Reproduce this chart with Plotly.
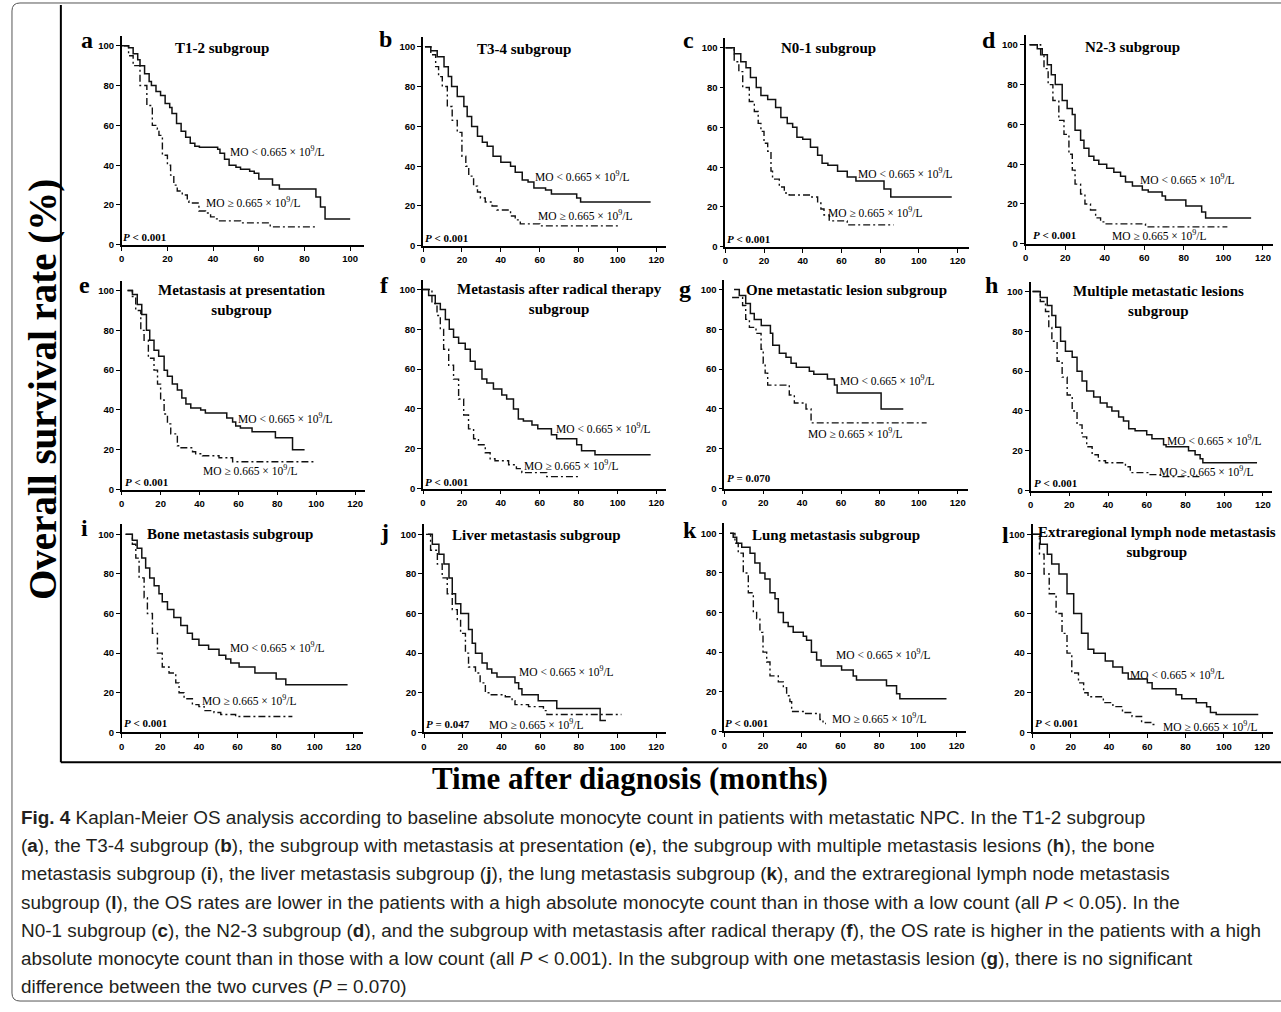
import plotly.graph_objects as go

W, H = 1281, 1012

# ---------------- data ----------------
PANEL_LETTERS = ["a", "b", "c", "d", "e", "f", "g", "h", "i", "j", "k", "l"]
PANEL_TITLES = ["T1-2 subgroup", "T3-4 subgroup", "N0-1 subgroup", "N2-3 subgroup",
                "Metastasis at presentation<br>subgroup",
                "Metastasis after radical therapy<br>subgroup",
                "One metastatic lesion subgroup",
                "Multiple metastatic lesions<br>subgroup",
                "Bone metastasis subgroup", "Liver metastasis subgroup",
                "Lung metastasis subgroup",
                "Extraregional lymph node metastasis<br>subgroup"]
P_TEXTS = ["<i>P</i> < 0.001"] * 6 + ["<i>P</i> = 0.070", "<i>P</i> < 0.001",
           "<i>P</i> < 0.001", "<i>P</i> = 0.047", "<i>P</i> < 0.001", "<i>P</i> < 0.001"]
X_TICKS_A = [0, 20, 40, 60, 80, 100]
X_TICKS = [0, 20, 40, 60, 80, 100, 120]
Y_TICKS = [0, 20, 40, 60, 80, 100]

A_LOW_T = [0, 3, 5, 7, 8, 10, 12, 13, 15, 17, 19, 21, 22, 24, 26, 28, 30, 32, 34, 42, 43, 45, 47, 50, 52, 56, 58, 60, 66, 69, 85, 87, 89, 100]
A_LOW_S = [100, 99, 96, 93, 90, 86, 82, 80, 77, 75, 71, 69, 66, 61, 57, 54, 51, 49.5, 49, 48, 46, 43, 40, 39, 38, 37, 36, 33, 30, 28, 24, 19, 13, 13]
A_HIGH_T = [1, 3, 5, 8, 11, 13.4, 15.6, 16.3, 17.8, 20, 21.4, 22.8, 24.3, 26.5, 28.7, 29.4, 33.8, 36.7, 38.9, 41, 42.5, 52, 65, 85]
A_HIGH_S = [100, 95, 90, 80, 70, 60, 58, 55, 45, 40, 35, 30, 27, 25, 22, 21, 17, 16, 14, 13, 12, 11, 9, 9]

B_LOW_T = [1, 4, 7.3, 10.8, 13, 14.7, 17.6, 21, 22.7, 25, 28, 30.5, 33, 36, 40, 45, 47.4, 51, 54, 57, 63, 66, 79, 81, 117]
B_LOW_S = [100, 98, 95, 90, 85, 80, 75, 70, 65, 60, 55, 52, 50, 45, 42, 40, 37, 33, 32, 29, 28, 26, 24, 22, 22]
B_HIGH_T = [1, 4, 6.5, 8, 9.9, 12.5, 15, 17.6, 20, 22, 23.5, 26, 28, 29.5, 32, 35.5, 38, 45, 47.4, 50, 60, 101]
B_HIGH_S = [100, 96, 90, 85, 80, 70, 63, 57, 45, 40, 35, 30, 27, 24, 22, 20, 18, 15, 13, 11, 10, 10]

C_LOW_T = [0, 4.6, 8, 10.7, 13, 16, 18.4, 21.9, 26, 28.7, 32, 34.8, 37, 40, 44, 47.7, 50, 53, 58, 63, 67.5, 82, 85.5, 117]
C_LOW_S = [100, 97, 93, 90, 85, 80, 76, 74, 70, 65, 62, 60, 55, 54, 50, 46, 42, 41, 38, 35, 33, 29, 25, 25]
C_HIGH_T = [0, 4.6, 7, 9, 12.4, 15, 17, 18.4, 20, 21.9, 23.6, 24.4, 27.9, 30.5, 33, 44, 47.7, 49.4, 51, 53.7, 63, 87]
C_HIGH_S = [100, 93, 88, 80, 73, 68, 62, 58, 52, 48, 38, 34, 30, 27, 26, 25, 22, 19, 16, 13, 11, 11]

D_LOW_T = [2, 5.9, 8.4, 11, 13, 15, 18.5, 21, 23.6, 25, 27.8, 29.5, 32, 34.5, 37, 41, 44.6, 48, 50.5, 54, 59, 62, 69, 70.7, 81, 89, 91, 114]
D_LOW_S = [100, 98, 95, 90, 85, 80, 72, 68, 65, 57, 52, 48, 44, 42, 40, 38, 36, 34, 31, 29, 27, 26, 24, 22, 19, 16, 13, 13]
D_HIGH_T = [2, 7.6, 9.3, 11.4, 13.8, 16.8, 19.4, 21.9, 23.6, 25, 27.8, 30, 32.8, 35.4, 37.9, 40, 60.6, 102]
D_HIGH_S = [100, 95, 88, 80, 72, 62, 55, 45, 37, 30, 25, 20, 17, 13, 11, 10, 8.5, 8.5]

E_LOW_T = [3, 5.5, 8, 10.3, 12.7, 14.4, 16.6, 19, 21.8, 23.5, 26, 28.6, 30.9, 33, 35.5, 40.6, 43, 54, 57, 58.6, 61, 67, 79, 87.8, 94]
E_LOW_S = [100, 98, 93, 88, 80, 75, 70, 67, 60, 57, 53, 50, 46, 43, 41, 40, 38.5, 36, 34, 32, 31, 29, 26, 20, 20]
E_HIGH_T = [3, 5.5, 7.2, 9.8, 11.5, 13.7, 16.6, 18.4, 20, 21.8, 23.5, 25.2, 28.6, 30, 36.4, 38, 41.5, 50, 57, 100]
E_HIGH_S = [100, 97, 90, 80, 75, 66, 60, 53, 45, 38, 33, 28, 22, 21, 19, 18, 17, 16, 14, 14]

F_LOW_T = [0, 2.9, 6.3, 8.9, 11.5, 13.5, 15.7, 18.3, 21.7, 24.3, 26.8, 30.3, 32.8, 36.2, 40.5, 43, 46.5, 49, 51.6, 56, 59, 66, 68.7, 79, 81.5, 88.4, 117]
F_LOW_S = [100, 97, 93, 90, 85, 80, 76, 73, 70, 64, 60, 55, 53, 50, 47, 45, 40, 35, 34, 32, 30, 27, 25, 22, 19, 17, 17]
F_HIGH_T = [0, 4.6, 7.2, 8.9, 10.6, 13.2, 15.7, 18.3, 20.9, 23.4, 26, 28.5, 32, 34.5, 37, 44, 48, 50.8, 63.6, 80.7]
F_HIGH_S = [100, 93, 87, 80, 70, 62, 55, 45, 37, 30, 25, 22, 18, 15, 14, 12, 10, 8, 6, 6]

G_LOW_T = [5, 7.7, 11, 13.4, 15.4, 19, 23.7, 24.9, 28.3, 31.7, 34.3, 37, 43.7, 46, 53, 56.6, 58, 80.6, 92]
G_LOW_S = [100, 97, 93, 88, 85, 82, 78, 72, 68, 66, 63, 61, 59, 57.5, 55, 52, 48, 40, 40]
G_HIGH_T = [4, 9.4, 11, 12.9, 16.3, 18.9, 20, 21, 22.3, 33.4, 36, 42, 44.6, 104]
G_HIGH_S = [96, 92, 85, 81, 78, 70, 63, 58, 52, 47, 43, 40, 33, 33]

H_LOW_T = [1, 5, 8.6, 11, 13, 15.5, 18, 21.5, 24, 26.6, 29, 32.6, 36, 39.5, 42, 45.5, 48, 50.7, 54, 60, 62.7, 68.7, 70, 81.6, 85, 87.6, 89, 117]
H_LOW_S = [100, 97, 93, 88, 82, 75, 70, 67, 60, 55, 50, 47, 44, 42, 40, 37, 35, 31, 30, 28, 26, 23, 22, 20, 18, 16, 14, 14]
H_HIGH_T = [1, 5, 7.7, 9.4, 11, 13.7, 16.3, 18.9, 21.5, 24, 26.6, 29, 31.8, 35, 38.7, 49, 51.5, 61, 67, 88.5]
H_HIGH_S = [100, 95, 90, 82, 75, 65, 57, 48, 40, 33, 27, 22, 18, 15, 14, 12, 9, 8, 7, 7]

I_LOW_T = [2, 5.5, 8, 10.4, 12.4, 14.5, 16.8, 19.3, 21, 23.7, 27, 30.6, 34, 36.6, 40, 45, 50.4, 53.9, 56.5, 60.8, 69, 80, 85, 117]
I_LOW_S = [100, 97, 93, 88, 83, 78, 74, 70, 66, 62, 58, 54, 50, 47, 44, 42, 39, 37, 35, 33, 30, 27, 24, 24]
I_HIGH_T = [2, 5.5, 7.3, 9, 11.6, 13.3, 15.9, 18.5, 21, 24.5, 28, 29.7, 32.3, 36.6, 40, 42.7, 47.8, 51.3, 59, 88.4]
I_HIGH_S = [100, 95, 88, 78, 68, 60, 50, 40, 33, 30, 25, 20, 17, 14, 13, 11, 10, 9, 8, 8]

J_LOW_T = [2, 4.3, 7.7, 10.3, 12.9, 14.6, 16.3, 19, 23, 24.9, 26.6, 30, 32.6, 35, 37.7, 47, 48.9, 50.6, 59, 68.6, 91, 94]
J_LOW_S = [100, 95, 90, 85, 78, 70, 65, 60, 52, 45, 40, 35, 32, 30, 28, 25, 22, 19, 16, 12, 6, 6]
J_HIGH_T = [1, 3.4, 6.9, 9.4, 12, 14.6, 17.2, 18.9, 21.4, 23, 26.6, 29, 31.7, 34.3, 42, 45.5, 47, 54, 61.7, 63.5, 102]
J_HIGH_S = [100, 92, 85, 78, 70, 62, 57, 50, 40, 33, 30, 25, 20, 19, 18, 16, 14, 13, 11, 9, 9]

K_LOW_T = [3, 4.6, 6.4, 9, 13.3, 15.8, 18.4, 21, 23.6, 26.2, 27.9, 30.5, 33, 35.6, 40.8, 42.5, 45, 47.7, 50, 60.6, 66.6, 68.3, 83.8, 89, 90.7, 114.8]
K_LOW_S = [100, 98, 95, 93, 90, 85, 80, 77, 70, 67, 60, 55, 53, 50, 48, 46, 40, 36, 33, 31, 28, 26, 23, 19, 16.5, 16.5]
K_HIGH_T = [3, 5.5, 7.2, 9.8, 12.4, 15, 16.7, 18.4, 20, 21.9, 23.6, 27.9, 30.5, 32.2, 33.9, 34.8, 41.6, 49.4, 51, 52.5]
K_HIGH_S = [100, 95, 90, 80, 70, 60, 57, 50, 40, 35, 28, 25, 22, 18, 15, 10, 9, 6, 4, 4]

L_LOW_T = [0, 4, 7.7, 10, 13.8, 18, 21.5, 25.6, 29, 32, 38, 42, 47, 50, 60, 62.5, 75, 78, 85.6, 91, 93, 96, 118]
L_LOW_S = [100, 95, 90, 85, 80, 70, 60, 50, 42, 40, 36, 33, 30, 27, 25, 22, 19, 17, 15, 13, 10, 9, 9]
L_HIGH_T = [0, 3.6, 6, 8.7, 12.3, 15.4, 18, 20.5, 24, 26.7, 29, 37, 42, 47, 52, 57, 62.5, 65]
L_HIGH_S = [100, 90, 80, 70, 60, 50, 40, 30, 25, 20, 18, 15, 13, 10, 8, 5, 4, 4]

LOW_T = [A_LOW_T, B_LOW_T, C_LOW_T, D_LOW_T, E_LOW_T, F_LOW_T, G_LOW_T, H_LOW_T, I_LOW_T, J_LOW_T, K_LOW_T, L_LOW_T]
LOW_S = [A_LOW_S, B_LOW_S, C_LOW_S, D_LOW_S, E_LOW_S, F_LOW_S, G_LOW_S, H_LOW_S, I_LOW_S, J_LOW_S, K_LOW_S, L_LOW_S]
HIGH_T = [A_HIGH_T, B_HIGH_T, C_HIGH_T, D_HIGH_T, E_HIGH_T, F_HIGH_T, G_HIGH_T, H_HIGH_T, I_HIGH_T, J_HIGH_T, K_HIGH_T, L_HIGH_T]
HIGH_S = [A_HIGH_S, B_HIGH_S, C_HIGH_S, D_HIGH_S, E_HIGH_S, F_HIGH_S, G_HIGH_S, H_HIGH_S, I_HIGH_S, J_HIGH_S, K_HIGH_S, L_HIGH_S]

LOW_LABEL = "MO < 0.665 × 10<sup>9</sup>/L"
HIGH_LABEL = "MO ≥ 0.665 × 10<sup>9</sup>/L"

CAPTION = [
    "<b>Fig. 4</b> Kaplan-Meier OS analysis according to baseline absolute monocyte count in patients with metastatic NPC. In the T1-2 subgroup",
    "(<b>a</b>), the T3-4 subgroup (<b>b</b>), the subgroup with metastasis at presentation (<b>e</b>), the subgroup with multiple metastasis lesions (<b>h</b>), the bone",
    "metastasis subgroup (<b>i</b>), the liver metastasis subgroup (<b>j</b>), the lung metastasis subgroup (<b>k</b>), and the extraregional lymph node metastasis",
    "subgroup (<b>l</b>), the OS rates are lower in the patients with a high absolute monocyte count than in those with a low count (all <i>P</i> < 0.05). In the",
    "N0-1 subgroup (<b>c</b>), the N2-3 subgroup (<b>d</b>), and the subgroup with metastasis after radical therapy (<b>f</b>), the OS rate is higher in the patients with a high",
    "absolute monocyte count than in those with a low count (all <i>P</i> < 0.001). In the subgroup with one metastasis lesion (<b>g</b>), there is no significant",
    "difference between the two curves (<i>P</i> = 0.070)",
]

# ---------------- layout geometry (pixels) ----------------
# x0 px (x=0), px per month, x right end px, y0 px (y=0), px per %
GEOM = [
    (119, 2.29, 362, 246, 2.00), (421, 1.95, 665, 247, 2.00),
    (724, 1.94, 968, 248, 2.00), (1025, 1.983, 1273, 245, 2.00),
    (119, 1.95, 363, 492, 2.00), (421, 1.95, 665, 491, 2.00),
    (723, 1.95, 967, 491, 2.00), (1030, 1.94, 1272, 493, 2.00),
    (119, 1.935, 361, 736, 1.99), (422, 1.94, 665, 736, 1.99),
    (723, 1.94, 965, 735, 1.99), (1032, 1.917, 1273, 736, 1.99),
]
LETTER_POS = [(84, 40), (383, 39), (687, 40), (988, 40), (82, 286), (382, 286), (684, 290),
              (991, 286), (82, 531), (382, 535), (689, 533), (1005, 538)]
TITLE_POS = [(220, 48), (522, 49), (827, 48), (1132, 47), (240, 301), (558, 300), (845, 291),
             (1158, 302), (228, 537), (535, 538), (835, 538), (1157, 545)]
LOWLAB_POS = [(228, 152), (533, 177), (857, 174), (1140, 180), (236, 420), (554, 430), (839, 382),
              (1167, 442), (228, 650), (517, 674), (835, 657), (1130, 677)]
HIGHLAB_POS = [(203, 203), (536, 216), (827, 213), (1112, 236), (200, 472), (522, 467), (807, 435),
               (1159, 473), (199, 703), (487, 728), (831, 722), (1163, 730)]
P_POS = [(120, 238), (423, 239), (726, 240), (1032, 236), (122, 484), (423, 484), (726, 480),
         (1033, 485), (121, 727), (424, 728), (724, 727), (1034, 727)]
PAD = 2  # annotation inner padding compensation for left-anchored texts


def px(x):
    return x / W


def py(y):
    return 1 - y / H


SERIF = "Liberation Serif, Times New Roman, serif"
SANS = "Liberation Sans, Arial, sans-serif"

fig = go.Figure()
layout = dict(width=W, height=H, margin=dict(l=0, r=0, t=0, b=0),
              paper_bgcolor="white", plot_bgcolor="white", showlegend=False)
annotations = []

for i in range(12):
    n = "" if i == 0 else str(i + 1)
    x0, sx, x1, y0, sy = GEOM[i]
    xmax = (x1 - x0) / sx
    ytop = y0 - 105 * sy
    layout["xaxis" + n] = dict(
        domain=[px(x0), px(x1)], range=[0, xmax], anchor="y" + n,
        showline=True, linecolor="black", linewidth=1.6, mirror=False,
        ticks="outside", ticklen=4, tickwidth=1.4, tickcolor="black",
        tickvals=X_TICKS_A if i == 0 else X_TICKS,
        tickfont=dict(family=SANS, size=9.5, color="black", weight="bold"),
        showgrid=False, zeroline=False, fixedrange=True)
    layout["yaxis" + n] = dict(
        domain=[py(y0), py(ytop)], range=[0, 105], anchor="x" + n,
        showline=True, linecolor="black", linewidth=1.6,
        ticks="outside", ticklen=4, tickwidth=1.4, tickcolor="black",
        tickvals=Y_TICKS,
        tickfont=dict(family=SANS, size=9.5, color="black", weight="bold"),
        showgrid=False, zeroline=False, fixedrange=True)

    fig.add_trace(go.Scatter(x=HIGH_T[i], y=HIGH_S[i], mode="lines", line_shape="hv",
                             line=dict(color="#111", width=1.4, dash="7px,3px,2px,3px"),
                             xaxis="x" + n, yaxis="y" + n, cliponaxis=False))
    fig.add_trace(go.Scatter(x=LOW_T[i], y=LOW_S[i], mode="lines", line_shape="hv",
                             line=dict(color="#111", width=1.5),
                             xaxis="x" + n, yaxis="y" + n, cliponaxis=False))

    lx, ly = LETTER_POS[i]
    annotations.append(dict(x=px(lx), y=py(ly), xref="paper", yref="paper", text="<b>%s</b>" % PANEL_LETTERS[i],
                            showarrow=False, xanchor="center", yanchor="middle",
                            font=dict(family=SERIF, size=24, color="black")))
    tx, ty = TITLE_POS[i]
    annotations.append(dict(x=px(tx), y=py(ty), xref="paper", yref="paper", text="<b>%s</b>" % PANEL_TITLES[i],
                            showarrow=False, xanchor="center", yanchor="middle", align="center",
                            font=dict(family=SERIF, size=15, color="black")))
    for (ax, ay), txt in ((LOWLAB_POS[i], LOW_LABEL), (HIGHLAB_POS[i], HIGH_LABEL)):
        annotations.append(dict(x=px(ax - PAD), y=py(ay), xref="paper", yref="paper", text=txt,
                                showarrow=False, xanchor="left", yanchor="middle",
                                font=dict(family=SERIF, size=11.5, color="black")))
    qx, qy = P_POS[i]
    annotations.append(dict(x=px(qx - PAD), y=py(qy), xref="paper", yref="paper", text="<b>%s</b>" % P_TEXTS[i],
                            showarrow=False, xanchor="left", yanchor="middle",
                            font=dict(family=SERIF, size=11, color="black")))

# big axis titles
annotations.append(dict(x=px(40), y=py(391), xref="paper", yref="paper",
                        text="<b>Overall survival rate (%)</b>", textangle=-90,
                        showarrow=False, xanchor="center", yanchor="middle",
                        font=dict(family=SERIF, size=39, color="black")))
annotations.append(dict(x=px(628), y=py(782), xref="paper", yref="paper",
                        text="<b>Time after diagnosis (months)</b>",
                        showarrow=False, xanchor="center", yanchor="middle",
                        font=dict(family=SERIF, size=31, color="black")))

# caption
CAP_Y = [822, 850, 878, 907, 935, 963, 991]
for line, yy in zip(CAPTION, CAP_Y):
    annotations.append(dict(x=px(18 - PAD), y=py(yy), xref="paper", yref="paper", text=line,
                            showarrow=False, xanchor="left", yanchor="middle",
                            font=dict(family=SANS, size=18.9, color="#231f20")))

layout["annotations"] = annotations

# frame lines
r = 8
outer = ("M %f,%f L %f,%f Q %f,%f %f,%f L %f,%f Q %f,%f %f,%f L %f,%f" % (
    px(1285), py(3), px(9 + r), py(3), px(9), py(3), px(9), py(3 + r),
    px(9), py(1006 - r), px(9), py(1006), px(9 + r), py(1006), px(1285), py(1006)))
layout["shapes"] = [
    dict(type="path", xref="paper", yref="paper", path=outer, line=dict(color="#555", width=1)),
    dict(type="line", xref="paper", yref="paper", x0=px(58), x1=px(58), y0=py(5), y1=py(766),
         line=dict(color="black", width=2)),
    dict(type="line", xref="paper", yref="paper", x0=px(58), x1=px(1281), y0=py(766), y1=py(766),
         line=dict(color="black", width=2)),
]

fig.update_layout(**layout)
fig.write_html("out.html", config={"displayModeBar": False},
               post_script="document.body.style.margin='0';document.body.style.overflow='hidden';")
